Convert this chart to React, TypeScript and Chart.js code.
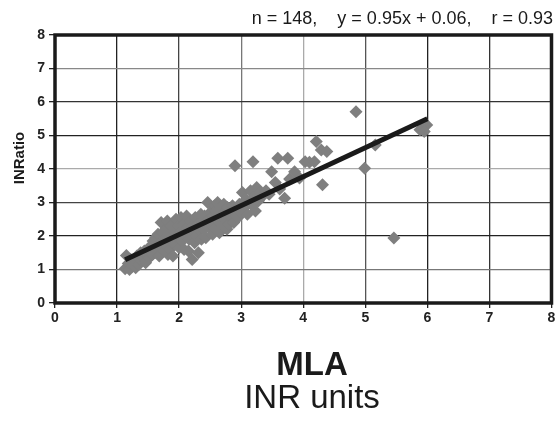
import React, { useEffect, useRef } from "react";
import { Chart, registerables } from "chart.js";

Chart.register(...registerables);

// ---- data ----
const mlaValues: number[] = [
  1.13, 1.15, 1.18, 1.2, 1.22, 1.25, 1.28, 1.3, 1.32, 1.35, 1.36, 1.38, 1.4, 1.42, 1.44, 1.46, 1.48, 1.5,
  1.52, 1.54, 1.55, 1.57, 1.58, 1.6, 1.62, 1.63, 1.65, 1.66, 1.68, 1.7, 1.71, 1.72, 1.74, 1.75, 1.77, 1.78, 1.8, 1.81, 1.82, 1.84, 1.85, 1.87, 1.88, 1.9, 1.92, 1.93, 1.95, 1.96, 1.98, 2.0,
  2.02, 2.03, 2.05, 2.07, 2.08, 2.1, 2.12, 2.13, 2.15, 2.16, 2.18, 2.2, 2.21, 2.23, 2.25, 2.26, 2.28, 2.3, 2.31, 2.33, 2.35, 2.36, 2.38, 2.4, 2.41, 2.43, 2.45, 2.46, 2.48, 2.5,
  2.52, 2.54, 2.55, 2.57, 2.58, 2.6, 2.62, 2.63, 2.65, 2.67, 2.68, 2.7, 2.72, 2.73, 2.75, 2.77, 2.78, 2.8, 2.82, 2.84, 2.86, 2.88, 2.9, 2.91, 2.93, 2.95, 2.97, 3.0,
  3.02, 3.05, 3.08, 3.1, 3.13, 3.15, 3.18, 3.19, 3.2, 3.23, 3.25, 3.28, 3.3, 3.35, 3.4, 3.45,
  3.49, 3.55, 3.59, 3.62, 3.7, 3.75, 3.78, 3.86, 3.94, 4.03, 4.1, 4.18, 4.21, 4.29, 4.31,
  4.38, 4.85, 4.99, 5.16, 5.46, 5.88, 5.93, 5.99, 5.95,
];
const inratioValues: number[] = [
  1.02, 1.42, 1.18, 1.0, 1.3, 1.1, 1.22, 1.05, 1.4, 1.15, 1.3, 1.5, 1.25, 1.38, 1.55, 1.2, 1.45, 1.6,
  1.35, 1.7, 1.5, 1.45, 1.85, 1.6, 1.95, 1.5, 1.75, 2.05, 1.4, 1.65, 2.4, 1.85, 2.1, 1.55, 1.95, 2.2, 1.7, 2.45, 1.45, 2.0, 1.6, 2.3, 1.85, 1.4, 2.15, 1.75, 2.5, 1.95, 2.3, 1.65,
  2.1, 2.55, 1.85, 2.35, 1.6, 2.0, 2.6, 2.25, 1.55, 1.9, 2.45, 2.1, 1.3, 2.3, 1.8, 2.55, 2.0, 2.35, 1.5, 2.15, 2.65, 1.9, 2.4, 2.2, 2.6, 1.95, 2.45, 3.0, 2.25, 2.7,
  2.35, 2.05, 2.6, 2.9, 2.2, 2.75, 3.0, 2.45, 2.1, 2.85, 2.6, 2.3, 2.95, 2.7, 2.5, 2.2, 2.85, 2.35, 2.7, 2.55, 2.9, 2.4, 4.1, 2.6, 2.8, 2.55, 2.95, 2.7,
  3.3, 2.85, 3.1, 2.65, 3.0, 3.35, 2.9, 4.22, 3.15, 2.75, 3.45, 3.05, 3.3, 3.2, 3.35, 3.25,
  3.92, 3.6, 4.32, 3.4, 3.13, 4.32, 3.7, 3.92, 3.73, 4.22, 4.2, 4.22, 4.82, 4.57, 3.53,
  4.52, 5.71, 4.02, 4.72, 1.94, 5.17, 5.25, 5.31, 5.12,
];
const fitLineX: number[] = [1.13, 6.0];
const fitLineY: number[] = [1.29, 5.5];
const axisTicks: number[] = [0, 1, 2, 3, 4, 5, 6, 7, 8];
const statsText = "n = 148,    y = 0.95x + 0.06,    r = 0.93";
const yAxisTitle = "INRatio";
const xAxisTitle = "MLA";
const xAxisUnits = "INR units";

// ---- styles ----
const FONT = '"Liberation Sans", Arial, Helvetica, sans-serif';
const xGridColors: Record<number, string> = { 1: "#222", 2: "#444", 3: "#777", 4: "#aaa", 5: "#555", 6: "#222", 7: "#333" };
const yGridColors: Record<number, string> = { 1: "#777", 2: "#222", 3: "#444", 4: "#aaa", 5: "#222", 6: "#333", 7: "#888" };

const decorPlugin = {
  id: "decor",
  beforeDatasetsDraw(chart: any) {
    const { ctx, chartArea } = chart;
    ctx.save();
    ctx.strokeStyle = "#1a1a1a";
    ctx.lineWidth = 3.5;
    ctx.strokeRect(chartArea.left, chartArea.top, chartArea.right - chartArea.left, chartArea.bottom - chartArea.top);
    ctx.restore();
  },
  afterDraw(chart: any) {
    const { ctx } = chart;
    ctx.save();
    ctx.fillStyle = "#1a1a1a";
    ctx.textBaseline = "middle";
    ctx.textAlign = "right";
    ctx.font = `18px ${FONT}`;
    ctx.fillText(statsText, 553, 19);

    ctx.textAlign = "center";
    ctx.font = `bold 33px ${FONT}`;
    ctx.fillText(xAxisTitle, 312, 366);
    ctx.font = `33px ${FONT}`;
    ctx.fillText(xAxisUnits, 312, 399);

    ctx.translate(20, 158);
    ctx.rotate(-Math.PI / 2);
    ctx.font = `bold 15px ${FONT}`;
    ctx.fillText(yAxisTitle, 0, 0);
    ctx.restore();
  },
};

export default function App() {
  const ref = useRef<HTMLCanvasElement | null>(null);

  useEffect(() => {
    if (!ref.current) return;
    const points = mlaValues.map((x, i) => ({ x, y: inratioValues[i] }));
    const line = fitLineX.map((x, i) => ({ x, y: fitLineY[i] }));
    const tickFont = { family: FONT, size: 14, weight: "bold" as const };

    const chart = new Chart(ref.current, {
      type: "scatter",
      data: {
        datasets: [
          {
            type: "line",
            label: "fit",
            data: line,
            borderColor: "#1a1a1a",
            borderWidth: 5,
            pointRadius: 0,
            fill: false,
            order: 0,
          } as any,
          {
            label: "INRatio vs MLA",
            data: points,
            backgroundColor: "#7f7f7f",
            borderWidth: 0,
            pointStyle: "rectRot",
            pointRadius: 6.5,
            order: 1,
          },
        ],
      },
      options: {
        animation: false,
        responsive: false,
        layout: { padding: { top: 35, right: 2, left: 0, bottom: 0 } },
        plugins: { legend: { display: false }, tooltip: { enabled: false } },
        scales: {
          x: {
            type: "linear",
            min: 0,
            max: 8,
            afterBuildTicks: (s: any) => {
              s.ticks = axisTicks.map((v) => ({ value: v }));
            },
            afterFit: (s: any) => {
              s.height = 118;
              s.paddingLeft = 0;
              s.paddingRight = 0;
            },
            ticks: { font: tickFont, color: "#222", padding: 2, maxRotation: 0 },
            grid: {
              color: (c: any) => xGridColors[c.tick?.value] ?? "#222",
              lineWidth: 1.3,
              tickLength: 5,
              tickColor: "#222",
              tickWidth: 1.3,
            },
            border: { display: false },
          },
          y: {
            type: "linear",
            min: 0,
            max: 8,
            afterBuildTicks: (s: any) => {
              s.ticks = axisTicks.map((v) => ({ value: v }));
            },
            afterFit: (s: any) => {
              s.width = 55;
              s.paddingTop = 0;
              s.paddingBottom = 0;
            },
            ticks: { font: tickFont, color: "#222", padding: 4 },
            grid: {
              color: (c: any) => yGridColors[c.tick?.value] ?? "#222",
              lineWidth: 1.3,
              tickLength: 6,
              tickColor: "#222",
              tickWidth: 1.3,
            },
            border: { display: false },
          },
        },
      },
      plugins: [decorPlugin],
    });
    return () => chart.destroy();
  }, []);

  return (
    <div style={{ position: "fixed", left: 0, top: 0, width: 558, height: 421, background: "#fff" }}>
      <canvas ref={ref} width={558} height={421} style={{ display: "block", width: 558, height: 421 }} />
    </div>
  );
}
